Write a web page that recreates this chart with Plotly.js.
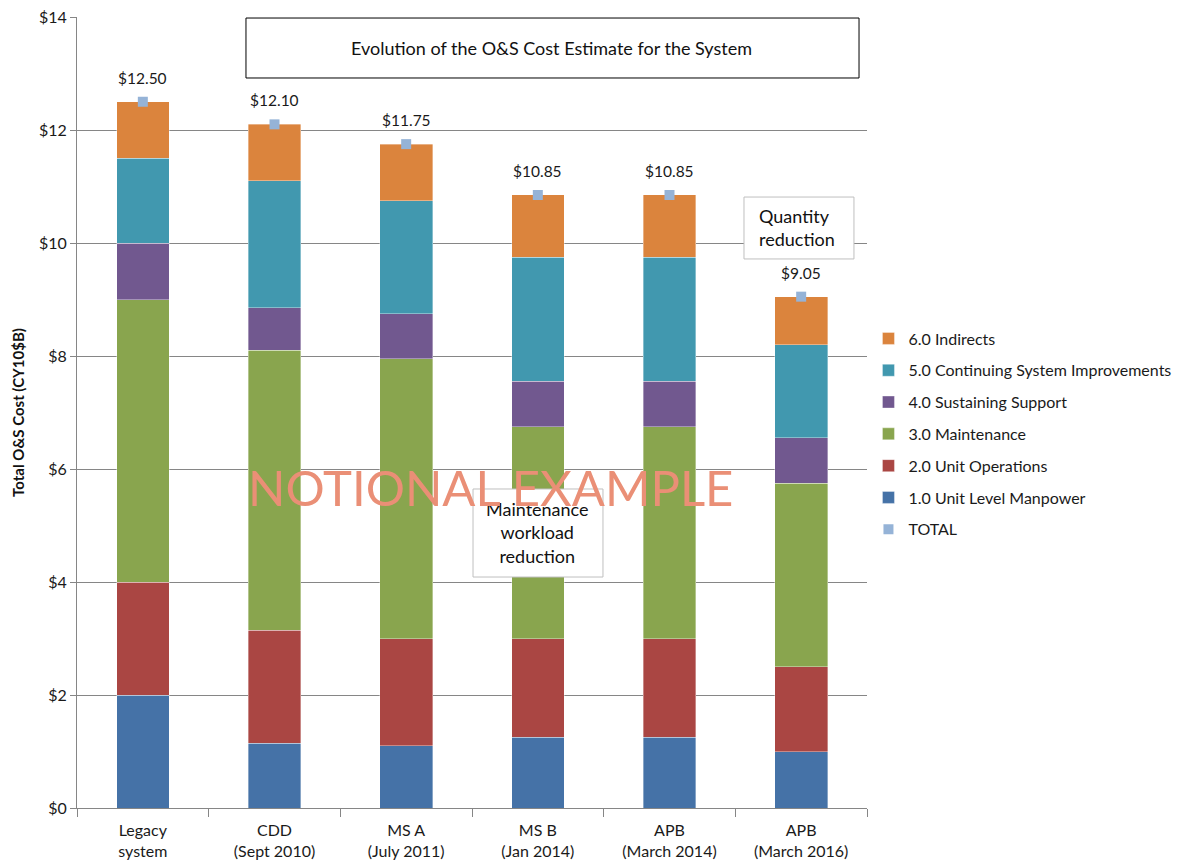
<!DOCTYPE html>
<html>
<head>
<meta charset="utf-8">
<script src="https://cdn.plot.ly/plotly-3.0.1.min.js"></script>
<style>
  html, body { margin: 0; padding: 0; background: #ffffff; }
  #chart { width: 1184px; height: 865px; }
</style>
</head>
<body>
<div id="chart"></div>
<script>
// Milestones (x categories), two-line labels
const milestones = [
  'Legacy<br>system',
  'CDD<br>(Sept 2010)',
  'MS A<br>(July 2011)',
  'MS B<br>(Jan 2014)',
  'APB<br>(March 2014)',
  'APB<br>(March 2016)'
];

// O&S cost elements, CY10 $B
const unitLevelManpower   = [2.00, 1.15, 1.10, 1.25, 1.25, 1.00];
const unitOperations      = [2.00, 2.00, 1.90, 1.75, 1.75, 1.50];
const maintenance         = [5.00, 4.95, 4.95, 3.75, 3.75, 3.25];
const sustainingSupport   = [1.00, 0.75, 0.80, 0.80, 0.80, 0.80];
const continuingImprove   = [1.50, 2.25, 2.00, 2.20, 2.20, 1.65];
const indirects           = [1.00, 1.00, 1.00, 1.10, 1.10, 0.85];
const totals              = [12.50, 12.10, 11.75, 10.85, 10.85, 9.05];

const seriesNames = [
  '1.0 Unit Level Manpower',
  '2.0 Unit Operations',
  '3.0 Maintenance',
  '4.0 Sustaining Support',
  '5.0 Continuing System Improvements',
  '6.0 Indirects'
];
const seriesValues = [unitLevelManpower, unitOperations, maintenance,
                      sustainingSupport, continuingImprove, indirects];
const seriesColors = ['#4572A7', '#AA4643', '#89A54E', '#71588F', '#4198AF', '#DB843D'];

const FONT = 'Lato, "Open Sans", sans-serif';
const TEXT = '#1a1a1a';

const traces = seriesValues.map((vals, i) => ({
  type: 'bar',
  name: seriesNames[i],
  x: milestones,
  y: vals,
  marker: { color: seriesColors[i], line: { color: 'rgba(255,255,255,0.6)', width: 0.6 } },
  legendrank: 6 - i,
  legendgroup: 'g' + i,
  hoverinfo: 'name+y'
}));

traces.push({
  type: 'scatter',
  mode: 'markers',
  name: 'TOTAL',
  x: milestones,
  y: totals,
  marker: { symbol: 'square', size: 10, color: '#95B3D7' },
  legendrank: 7,
  legendgroup: 'g6',
  cliponaxis: false
});

// Total value labels above each stack
const totalLabels = milestones.map((m, i) => ({
  xref: 'x', yref: 'y', x: m, y: totals[i],
  yshift: 24,
  text: '$' + totals[i].toFixed(2),
  showarrow: false,
  font: { family: FONT, size: 15.5, color: TEXT }
}));

// Callout boxes (paper coordinates)
const boxStyle = { type: 'rect', xref: 'paper', yref: 'paper', layer: 'above', fillcolor: '#ffffff' };
const shapes = [
  Object.assign({}, boxStyle, { x0: 0.2139, x1: 0.9899, y0: 0.9229, y1: 0.9987, line: { color: '#000000', width: 1 } }),
  Object.assign({}, boxStyle, { x0: 0.8443, x1: 0.9835, y0: 0.6941, y1: 0.7724, line: { color: '#BFBFBF', width: 1 } }),
  Object.assign({}, boxStyle, { x0: 0.5013, x1: 0.6658, y0: 0.2920, y1: 0.4033, line: { color: '#BFBFBF', width: 1 } })
];

const layout = {
  width: 1184,
  height: 865,
  margin: { l: 77, r: 317, t: 17, b: 57, autoexpand: false },
  paper_bgcolor: '#ffffff',
  plot_bgcolor: '#ffffff',
  barmode: 'stack',
  bargap: 0.6,
  showlegend: true,
  font: { family: FONT, size: 16, color: TEXT },
  xaxis: {
    type: 'category',
    tickson: 'boundaries',
    ticks: 'outside',
    ticklen: 8,
    tickcolor: '#868686',
    ticklabelstandoff: 8,
    showline: true,
    linecolor: '#868686',
    linewidth: 1,
    showgrid: false,
    tickfont: { family: FONT, size: 16, color: TEXT },
    automargin: false,
    fixedrange: true
  },
  yaxis: {
    range: [0, 14],
    dtick: 2,
    tickprefix: '$',
    ticks: 'outside',
    ticklen: 6,
    tickcolor: '#868686',
    showline: true,
    linecolor: '#868686',
    linewidth: 1,
    showgrid: true,
    gridcolor: '#868686',
    gridwidth: 1,
    zeroline: false,
    tickfont: { family: FONT, size: 16, color: TEXT },
    title: {
      text: '<b>Total O&S Cost (CY10$B)</b>',
      font: { family: FONT, size: 15, color: '#111111' },
      standoff: 10
    },
    automargin: false,
    fixedrange: true
  },
  legend: {
    xref: 'container',
    x: 0.7335,
    xanchor: 'left',
    y: 0.615,
    yanchor: 'top',
    traceorder: 'grouped',
    tracegroupgap: 8,
    font: { family: FONT, size: 16, color: TEXT },
    itemwidth: 30,
    bgcolor: 'rgba(0,0,0,0)'
  },
  shapes: shapes,
  annotations: totalLabels.concat([
    {
      xref: 'paper', yref: 'paper', x: 0.6006, y: 0.9608,
      xanchor: 'center', yanchor: 'middle',
      text: 'Evolution of the O&S Cost Estimate for the System',
      showarrow: false,
      font: { family: FONT, size: 18, color: '#111111' }
    },
    {
      xref: 'paper', yref: 'paper', x: 0.8608, y: 0.7333,
      xanchor: 'left', yanchor: 'middle', align: 'left',
      text: 'Quantity<br>reduction',
      showarrow: false,
      font: { family: FONT, size: 18, color: '#111111' }
    },
    {
      xref: 'paper', yref: 'paper', x: 0.5835, y: 0.3489,
      xanchor: 'center', yanchor: 'middle',
      text: 'Maintenance<br>workload<br>reduction',
      showarrow: false,
      font: { family: FONT, size: 18, color: '#111111' }
    },
    {
      xref: 'paper', yref: 'paper', x: 0.5228, y: 0.406,
      xanchor: 'center', yanchor: 'middle',
      text: 'NOTIONAL EXAMPLE',
      showarrow: false,
      font: { family: FONT, size: 49, color: '#EA8F76' }
    }
  ])
};

Plotly.newPlot('chart', traces, layout, { displayModeBar: false, staticPlot: true });
</script>
</body>
</html>
